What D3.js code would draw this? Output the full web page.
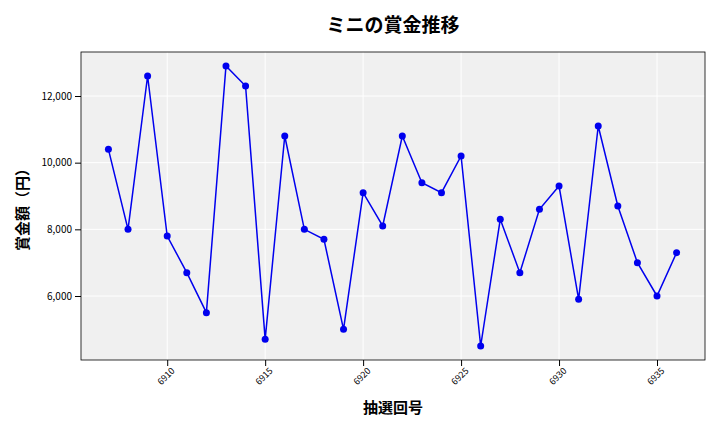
<!DOCTYPE html>
<html><head><meta charset="utf-8">
<script src="https://cdn.jsdelivr.net/npm/d3@7"></script>
<style>body{margin:0;background:#fff}text{font-family:"Noto Sans CJK JP","Noto Sans",sans-serif}</style>
</head><body><svg id="c" width="720" height="432"></svg>
<script>
const draws = d3.range(6907, 6937);
const prizes = [10400,8000,12600,7800,6700,5500,12900,12300,4700,10800,8000,7700,5000,9100,8100,10800,9400,9100,10200,4500,8300,6700,8600,9300,5900,11100,8700,7000,6000,7300];
const xTicks = [6910,6915,6920,6925,6930,6935];
const yTicks = [6000,8000,10000,12000];
const svg = d3.select("#c");
const L=81,R=705,T=52,B=360;
const x = d3.scaleLinear().domain([6905.6,6937.45]).range([L,R]);
const y = d3.scaleLinear().domain([4080,13320]).range([B,T]);
svg.append("rect").attr("x",L).attr("y",T).attr("width",R-L).attr("height",B-T).attr("fill","#f0f0f0");
const g=svg.append("g");
xTicks.forEach(t=>g.append("line").attr("x1",x(t)).attr("x2",x(t)).attr("y1",T).attr("y2",B).attr("stroke","#fff"));
yTicks.forEach(t=>g.append("line").attr("x1",L).attr("x2",R).attr("y1",y(t)).attr("y2",y(t)).attr("stroke","#fff"));
svg.append("rect").attr("x",L).attr("y",T).attr("width",R-L).attr("height",B-T).attr("fill","none").attr("stroke","#000").attr("stroke-width",0.8);
const xa=svg.append("g").attr("transform",`translate(0,${B})`).call(d3.axisBottom(x).tickValues(xTicks).tickFormat(d3.format("d")).tickSizeOuter(0));
xa.select(".domain").remove();
xa.selectAll("text").attr("transform","rotate(-45)").attr("text-anchor","end").attr("dx","-0.3em").attr("dy","0.5em").attr("font-size",9);
const ya=svg.append("g").attr("transform",`translate(${L},0)`).call(d3.axisLeft(y).tickValues(yTicks).tickFormat(d3.format(",")).tickSizeOuter(0));
ya.select(".domain").remove();
ya.selectAll("text").attr("font-size",10);
const line=d3.line().x((d,i)=>x(draws[i])).y(d=>y(d));
svg.append("path").datum(prizes).attr("d",line).attr("fill","none").attr("stroke","#0000ee").attr("stroke-width",1.5);
svg.selectAll("circle.p").data(prizes).enter().append("circle").attr("cx",(d,i)=>x(draws[i])).attr("cy",d=>y(d)).attr("r",3.5).attr("fill","#0000ee");
svg.append("text").attr("x",393).attr("y",32).attr("text-anchor","middle").attr("font-size",19).attr("font-weight","bold").text("ミニの賞金推移");
svg.append("text").attr("x",393).attr("y",413).attr("text-anchor","middle").attr("font-size",15).attr("font-weight","bold").text("抽選回号");
svg.append("text").attr("transform","translate(28,206) rotate(-90)").attr("text-anchor","middle").attr("font-size",15).attr("font-weight","bold").text("賞金額（円）");
</script></body></html>
